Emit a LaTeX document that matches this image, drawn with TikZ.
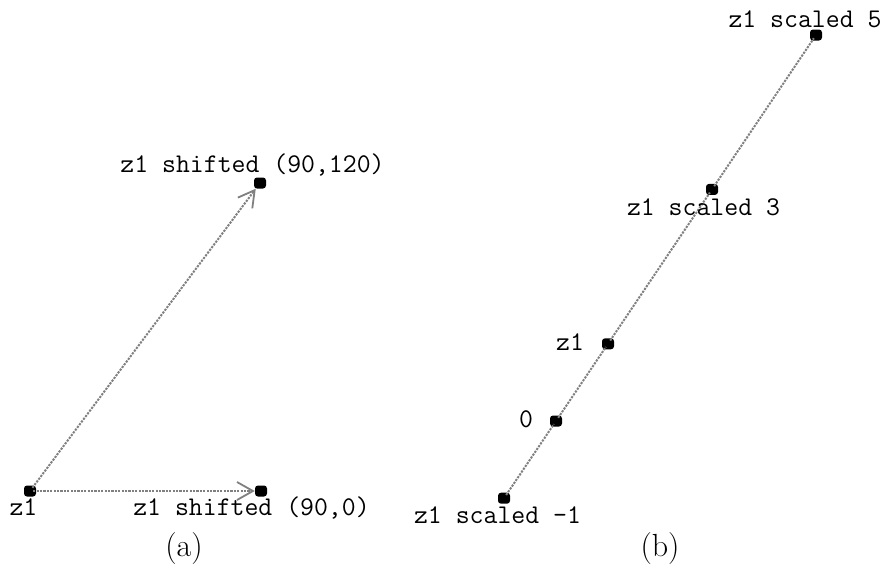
\documentclass[tikz,border=0pt]{standalone}
\usetikzlibrary{arrows.meta}
\begin{document}
\begin{tikzpicture}[x=1pt,y=-1pt,
  dot/.style={rectangle, fill=black, rounded corners=3pt, minimum width=12pt, minimum height=11pt, inner sep=0pt},
  conn/.style={draw=black!50, line width=2pt, dash pattern=on 2.2pt off 1.2pt, shorten <=-3pt},
  arr/.style={conn, -{Straight Barb[length=16pt,width=18pt,line width=1.8pt]}},
  lbl/.style={font=\fontsize{27}{29}\selectfont\ttfamily, inner sep=0pt, anchor=base, text=black},
  captext/.style={font=\fontsize{32}{35}\selectfont, inner sep=0pt, anchor=base}]
\useasboundingbox (0,0) rectangle (883,565);
% (a)
\node[dot] (za) at (30,491) {};
\node[dot] (ha) at (261,491) {};
\node[dot] (da) at (260,183) {};
\draw[arr] (za) -- (ha);
\draw[arr] (za) -- (da);
\node[lbl] (lza) at (23.5,515) {z1};
\node[lbl] (lha) at (251.5,515) {z1 shifted (90,0)};
\node[lbl] (lda) at (252.5,172) {z1 shifted (90,120)};
\node[captext] (capa) at (184,556) {(a)};
% (b)
\coordinate (o) at (556,421);
\node[dot] (sm) at (504,498.2) {};
\node[dot] (s0) at (o) {};
\node[dot] (s1) at (608,343.8) {};
\node[dot] (s3) at (712,189.4) {};
\node[dot] (s5) at (816,35) {};
\draw[conn, shorten >=-3pt] (sm) -- (s0);
\draw[conn, shorten >=-3pt] (s0) -- (s1);
\draw[conn, shorten >=-3pt] (s1) -- (s3);
\draw[conn, shorten >=-3pt] (s3) -- (s5);
\node[lbl] (ls5) at (805,27) {z1 scaled 5};
\node[lbl] (ls3) at (703.5,215) {z1 scaled 3};
\node[lbl] (ls1) at (570,350) {z1};
\node[lbl] (ls0) at (526,427) {0};
\node[lbl] (lsm) at (497.5,523) {z1 scaled -1};
\node[captext] (capb) at (660,556) {(b)};
\end{tikzpicture}
\end{document}
